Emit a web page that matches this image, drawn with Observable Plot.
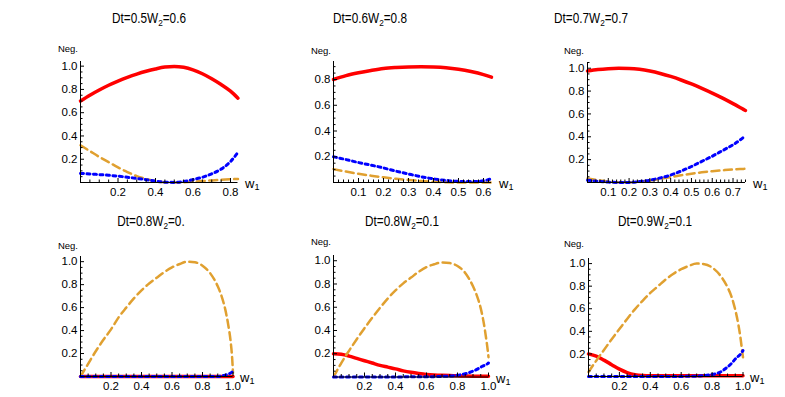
<!DOCTYPE html>
<html>
<head>
<meta charset="utf-8">
<script src="https://cdn.jsdelivr.net/npm/d3@7"></script>
<script src="https://cdn.jsdelivr.net/npm/@observablehq/plot@0.6"></script>
<style>
  body { margin: 0; background: #fff; }
  #chart { position: relative; width: 785px; height: 397px; overflow: hidden; background: #fff;
    font-family: "Liberation Sans", Arial, sans-serif; color: #000; }
  #chart svg { position: absolute; overflow: visible; }
  .title { position: absolute; font-size: 14px; white-space: nowrap; transform: translate(-50%, -50%) scaleX(0.84); line-height: 1; }
  .title sub, .wl sub { font-size: 70%; vertical-align: -0.3em; line-height: 0; }
  .neg { position: absolute; font-size: 9.5px; transform: translate(-100%, -50%); white-space: nowrap; line-height: 1; }
  .wl { position: absolute; font-size: 13px; transform: translate(0, -50%); white-space: nowrap; line-height: 1; }
</style>
</head>
<body>
<div id="chart"></div>
<script>
// ---------- data ----------
const panelDt = ["0.5", "0.6", "0.7", "0.8", "0.8", "0.9"];
const panelW2 = ["0.6", "0.8", "0.7", "0.", "0.1", "0.1"];

// panel 1: Dt=0.5, W2=0.6
const x1 = [0, 0.05, 0.1, 0.15, 0.2, 0.25, 0.3, 0.35, 0.4, 0.45, 0.5, 0.55, 0.6, 0.65, 0.7, 0.75, 0.8, 0.84];
const red1 = [0.70, 0.75, 0.795, 0.836, 0.872, 0.904, 0.932, 0.956, 0.976, 0.992, 0.998, 0.99, 0.968, 0.935, 0.892, 0.842, 0.785, 0.725];
const orange1 = [0.32, 0.27, 0.22, 0.175, 0.13, 0.09, 0.055, 0.03, 0.012, 0.003, 0, 0.002, 0.006, 0.012, 0.018, 0.024, 0.028, 0.03];
const blue1 = [0.078, 0.074, 0.068, 0.062, 0.055, 0.045, 0.035, 0.024, 0.012, 0.003, 0.001, 0.008, 0.025, 0.045, 0.075, 0.115, 0.18, 0.26];

// panel 2: Dt=0.6, W2=0.8
const x2 = [0, 0.05, 0.1, 0.15, 0.2, 0.25, 0.3, 0.35, 0.4, 0.45, 0.5, 0.55, 0.6, 0.632];
const red2 = [0.80, 0.83, 0.852, 0.87, 0.885, 0.893, 0.898, 0.9, 0.898, 0.892, 0.88, 0.862, 0.838, 0.818];
const orange2 = [0.104, 0.085, 0.068, 0.053, 0.04, 0.029, 0.02, 0.012, 0.006, 0.002, 0, 0, 0, 0];
const blue2 = [0.20, 0.178, 0.155, 0.135, 0.113, 0.088, 0.066, 0.045, 0.028, 0.016, 0.009, 0.007, 0.013, 0.03];

// panel 3: Dt=0.7, W2=0.7
const x3 = [0, 0.05, 0.1, 0.15, 0.2, 0.25, 0.3, 0.35, 0.4, 0.45, 0.5, 0.55, 0.6, 0.65, 0.7, 0.75, 0.76];
const red3 = [0.975, 0.988, 0.996, 1.0, 0.998, 0.99, 0.975, 0.954, 0.928, 0.897, 0.862, 0.823, 0.782, 0.738, 0.69, 0.64, 0.63];
const orange3 = [0.035, 0.02, 0.008, 0.002, 0.002, 0.008, 0.018, 0.032, 0.048, 0.063, 0.077, 0.089, 0.099, 0.107, 0.114, 0.119, 0.12];
const blue3 = [0.02, 0.01, 0.004, 0, 0.001, 0.008, 0.02, 0.04, 0.065, 0.1, 0.14, 0.185, 0.23, 0.28, 0.33, 0.395, 0.41];

// bottom row shared w1 grid
const xB = [0, 0.05, 0.1, 0.15, 0.2, 0.25, 0.3, 0.35, 0.4, 0.45, 0.5, 0.55, 0.6, 0.65, 0.7, 0.75, 0.8, 0.85, 0.9, 0.925, 0.95, 0.97, 0.985, 0.995, 1.0];

// panel 4: Dt=0.8, W2=0.
const red4 = [0, 0, 0, 0, 0, 0, 0, 0, 0, 0, 0, 0, 0, 0, 0, 0, 0, 0, 0, 0, 0, 0, 0, 0, 0];
const orange4 = [0, 0.11, 0.22, 0.32, 0.41, 0.515, 0.6, 0.68, 0.75, 0.81, 0.86, 0.91, 0.95, 0.98, 1.0, 0.995, 0.965, 0.9, 0.785, 0.70, 0.58, 0.44, 0.3, 0.15, 0.03];
const blue4 = [0, 0, 0, 0, 0, 0, 0, 0, 0, 0, 0, 0, 0, 0, 0, 0, 0, 0, 0.001, 0.005, 0.012, 0.02, 0.03, 0.04, 0.05];

// panel 5: Dt=0.8, W2=0.1
const red5 = [0.2, 0.195, 0.18, 0.16, 0.14, 0.12, 0.10, 0.085, 0.07, 0.053, 0.04, 0.03, 0.022, 0.017, 0.014, 0.012, 0.01, 0.008, 0.007, 0.007, 0.006, 0.006, 0.006, 0.006, 0.006];
const orange5 = [0, 0.12, 0.225, 0.325, 0.42, 0.51, 0.595, 0.675, 0.745, 0.805, 0.855, 0.905, 0.945, 0.97, 0.985, 0.98, 0.955, 0.895, 0.78, 0.70, 0.59, 0.46, 0.33, 0.23, 0.17];
const blue5 = [0, 0, 0, 0, 0, 0.001, 0.001, 0.001, 0.001, 0.001, 0.002, 0.002, 0.002, 0.003, 0.005, 0.008, 0.015, 0.028, 0.05, 0.065, 0.085, 0.098, 0.108, 0.115, 0.12];

// panel 6: Dt=0.9, W2=0.1
const red6 = [0.2, 0.18, 0.145, 0.105, 0.065, 0.035, 0.016, 0.008, 0.006, 0.006, 0.006, 0.006, 0.006, 0.006, 0.006, 0.006, 0.006, 0.006, 0.006, 0.006, 0.006, 0.006, 0.006, 0.006, 0.006];
const orange6 = [0.04, 0.14, 0.235, 0.33, 0.42, 0.51, 0.595, 0.67, 0.74, 0.8, 0.86, 0.91, 0.95, 0.98, 1.0, 0.995, 0.965, 0.9, 0.79, 0.71, 0.59, 0.46, 0.33, 0.22, 0.17];
const blue6 = [0, 0, 0, 0, 0, 0, 0, 0, 0, 0, 0.001, 0.001, 0.001, 0.002, 0.003, 0.008, 0.018, 0.037, 0.085, 0.115, 0.155, 0.18, 0.2, 0.22, 0.23];

// tick labels
const yTickLabels = [0.2, 0.4, 0.6, 0.8, 1.0];
const xTicksBy02 = [0.2, 0.4, 0.6, 0.8, 1.0];
const xTicksBy01 = [0.1, 0.2, 0.3, 0.4, 0.5, 0.6, 0.7];

// ---------- layout (pixel geometry of each panel's frame) ----------
const layout = [
  { left: 79.5, right: 237, top: 61, bottom: 182, xmax: 0.84, ymax: 1.04, xStep: 0.2, xMinor: 0.05, title: [148.5, 18] },
  { left: 333, right: 491, top: 61, bottom: 182, xmax: 0.632, ymax: 0.94, xStep: 0.1, xMinor: 0.02, title: [370, 18] },
  { left: 587, right: 745, top: 62, bottom: 182, xmax: 0.76, ymax: 1.05, xStep: 0.1, xMinor: 0.02, title: [591, 18] },
  { left: 79.5, right: 232, top: 256, bottom: 376, xmax: 1.0, ymax: 1.045, xStep: 0.2, xMinor: 0.05, title: [151, 221] },
  { left: 333, right: 488, top: 255, bottom: 376.5, xmax: 1.0, ymax: 1.045, xStep: 0.2, xMinor: 0.05, title: [402, 221] },
  { left: 587.5, right: 742, top: 258, bottom: 376, xmax: 1.0, ymax: 1.045, xStep: 0.2, xMinor: 0.05, title: [655, 221] }
];
const negPos = [[78, 49], [331, 51], [584, 51], [78, 246], [331, 242], [584, 244]];

const series = [
  { x: x1, red: red1, orange: orange1, blue: blue1 },
  { x: x2, red: red2, orange: orange2, blue: blue2 },
  { x: x3, red: red3, orange: orange3, blue: blue3 },
  { x: xB, red: red4, orange: orange4, blue: blue4 },
  { x: xB, red: red5, orange: orange5, blue: blue5 },
  { x: xB, red: red6, orange: orange6, blue: blue6 }
];

const chart = document.getElementById("chart");
const fmt = d3.format(".1f");
const fontFam = '"Liberation Sans", Arial, sans-serif';

function isMultiple(v, step) { const r = v / step; return Math.abs(r - Math.round(r)) < 1e-6; }

layout.forEach((L, i) => {
  const S = series[i];
  const rows = S.x.map((x, j) => ({ x, red: S.red[j], orange: S.orange[j], blue: S.blue[j] }));
  const mL = 40, mR = 8, mT = 8, mB = 24;
  const fw = L.right - L.left, fh = L.bottom - L.top;
  const xLabels = (L.xStep === 0.2 ? xTicksBy02 : xTicksBy01).filter(v => v <= L.xmax + 1e-9);
  const yLabels = yTickLabels.filter(v => v <= L.ymax + 1e-9);
  const xMinor = d3.range(L.xMinor, L.xmax + 1e-9, L.xMinor).filter(v => !isMultiple(v, L.xStep));
  const yMinor = d3.range(0.05, L.ymax + 1e-9, 0.05).filter(v => !isMultiple(v, 0.2));

  const svg = Plot.plot({
    width: fw + mL + mR,
    height: fh + mT + mB,
    marginLeft: mL, marginRight: mR, marginTop: mT, marginBottom: mB,
    x: { domain: [0, L.xmax] },
    y: { domain: [0, L.ymax] },
    style: { fontFamily: fontFam, fontSize: "11.5px", background: "transparent", color: "#000" },
    marks: [
      Plot.line(rows, { x: "x", y: "red", stroke: "#ff0000", strokeWidth: 3.5, curve: "monotone-x" }),
      Plot.line(rows, { x: "x", y: "orange", stroke: "#e0a030", strokeWidth: 2.5, strokeDasharray: "8,4.5", curve: "monotone-x" }),
      Plot.line(rows, { x: "x", y: "blue", stroke: "#0000ff", strokeWidth: 3, strokeDasharray: "3,3.5", curve: "monotone-x" }),
      Plot.ruleY([0], { stroke: "#000", strokeWidth: 1 }),
      Plot.ruleX([0], { stroke: "#000", strokeWidth: 1 }),
      Plot.tickY(yLabels, { y: d => d, insetRight: fw - 4, stroke: "#000" }),
      Plot.tickY(yMinor, { y: d => d, insetRight: fw - 2.5, stroke: "#000" }),
      Plot.tickX(xLabels, { x: d => d, insetTop: fh - 4, stroke: "#000" }),
      Plot.tickX(xMinor, { x: d => d, insetTop: fh - 2.5, stroke: "#000" }),
      Plot.axisY(yLabels, { tickSize: 0, tickPadding: 3, tickFormat: fmt, label: null, fontSize: 11.5 }),
      Plot.axisX(xLabels, { tickSize: 0, tickPadding: 5, tickFormat: fmt, label: null, fontSize: 11.5 })
    ]
  });
  svg.style.left = (L.left - mL) + "px";
  svg.style.top = (L.top - mT) + "px";
  chart.appendChild(svg);

  const t = document.createElement("div");
  t.className = "title";
  t.innerHTML = `Dt=${panelDt[i]}W<sub>2</sub>=${panelW2[i]}`;
  t.style.left = L.title[0] + "px";
  t.style.top = L.title[1] + "px";
  chart.appendChild(t);

  const n = document.createElement("div");
  n.className = "neg";
  n.textContent = "Neg.";
  n.style.left = negPos[i][0] + "px";
  n.style.top = negPos[i][1] + "px";
  chart.appendChild(n);

  const w = document.createElement("div");
  w.className = "wl";
  w.innerHTML = "w<sub>1</sub>";
  w.style.left = (L.right + 8) + "px";
  w.style.top = (L.bottom + 1) + "px";
  chart.appendChild(w);
});
</script>
</body>
</html>
